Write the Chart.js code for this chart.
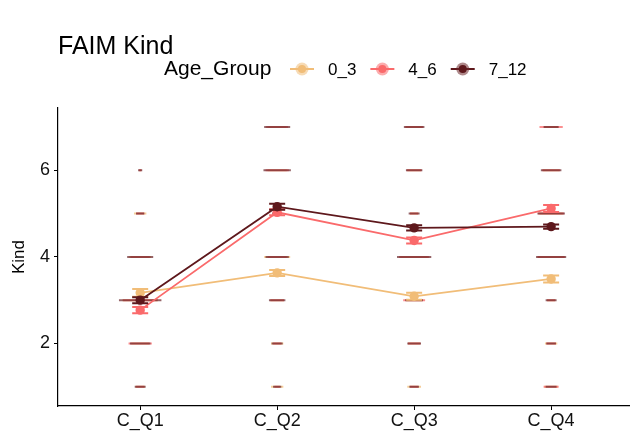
<!DOCTYPE html>
<html>
<head>
<meta charset="utf-8">
<script src="https://cdn.jsdelivr.net/npm/chart.js@4.4.1/dist/chart.umd.min.js"></script>
<style>
  body { margin: 0; background: #fff; }
  canvas { display: block; }
</style>
</head>
<body>
<canvas id="myChart" width="635" height="432"></canvas>
<script>
const categories = ['C_Q1', 'C_Q2', 'C_Q3', 'C_Q4'];
const groups = ['0_3', '4_6', '7_12'];
const levels = [1, 2, 3, 4, 5, 6, 7];
const yTicks = [2, 4, 6];

// group means and standard errors per question
const mean03 = [3.17, 3.63, 3.09, 3.49];
const mean46 = [2.77, 5.03, 4.38, 5.12];
const mean712 = [3.00, 5.16, 4.67, 4.70];
const se03 = [0.09, 0.07, 0.08, 0.08];
const se46 = [0.07, 0.07, 0.07, 0.08];
const se712 = [0.07, 0.07, 0.06, 0.05];

// violin width at each answer level 1..7 (percent of category spacing)
const dens03 = [[7, 13, 26, 16, 9, 1, 0], [9, 9, 10, 19, 6, 14, 13], [10, 9, 12, 20, 6, 10, 12], [10, 9, 6, 19, 17, 12, 10]];
const dens46 = [[6, 17, 25, 14, 6, 2, 0], [4, 6, 10, 14, 7, 17, 16], [6, 9, 16, 22, 6, 11, 13], [11, 7, 6, 20, 19, 13, 17]];
const dens712 = [[8, 15, 31, 19, 6, 3, 0], [6, 8, 12, 17, 7, 20, 19], [7, 10, 13, 25, 8, 12, 15], [8, 7, 8, 22, 20, 15, 11]];

const colors = ['#F1BD78', '#FA6A6B', '#5E181C'];
const violinColors = ['rgba(241,189,120,0.75)', 'rgba(250,106,107,0.75)', 'rgba(110,40,44,0.72)'];
const FONT = '"Liberation Sans", Arial, sans-serif';

function violinPoints(dens) {
  const pts = [];
  dens.forEach((row, i) => {
    row.forEach((d, j) => {
      if (d > 0) pts.push({ x: i, y: levels[j], d: d });
    });
  });
  return pts;
}

function meanPoints(means, ses) {
  return means.map((m, i) => ({ x: i, y: m, se: ses[i] }));
}

const allDens = [dens03, dens46, dens712];
const allMeans = [mean03, mean46, mean712];
const allSe = [se03, se46, se712];

const datasets = [];
groups.forEach((g, k) => {
  datasets.push({
    type: 'scatter',
    label: g + ' violin',
    data: violinPoints(allDens[k]),
    order: 12 - k,
    pointStyle: 'line',
    borderColor: violinColors[k],
    backgroundColor: violinColors[k],
    borderWidth: 2,
    pointRadius: ctx => {
      const x = ctx.chart.scales.x;
      const unit = x.getPixelForValue(1) - x.getPixelForValue(0);
      return ctx.raw ? ctx.raw.d / 100 * unit / 2 : 0;
    },
    pointHoverRadius: 0
  });
  datasets.push({
    type: 'line',
    label: g,
    data: meanPoints(allMeans[k], allSe[k]),
    order: 3 - k,
    errorBars: true,
    borderColor: colors[k],
    backgroundColor: colors[k],
    pointBackgroundColor: colors[k],
    pointBorderColor: colors[k],
    borderWidth: 1.8,
    pointRadius: 3.8,
    tension: 0
  });
});

// error bars drawn just before each mean line
const errorBarPlugin = {
  id: 'errorBars',
  beforeDatasetDraw(chart, args) {
    const ds = chart.data.datasets[args.index];
    if (!ds.errorBars) return;
    const ctx = chart.ctx;
    const xs = chart.scales.x, ys = chart.scales.y;
    ctx.save();
    ctx.strokeStyle = ds.borderColor;
    ctx.lineWidth = 2;
    ds.data.forEach(p => {
      const px = xs.getPixelForValue(p.x);
      const top = ys.getPixelForValue(p.y + p.se);
      const bot = ys.getPixelForValue(p.y - p.se);
      ctx.beginPath();
      ctx.moveTo(px, top); ctx.lineTo(px, bot);
      ctx.moveTo(px - 8, top); ctx.lineTo(px + 8, top);
      ctx.moveTo(px - 8, bot); ctx.lineTo(px + 8, bot);
      ctx.stroke();
    });
    ctx.restore();
  }
};

// title, y title and the inline legend like ggplot
const decorPlugin = {
  id: 'decor',
  afterDraw(chart) {
    const ctx = chart.ctx;
    const area = chart.chartArea;
    ctx.save();
    ctx.fillStyle = '#000';
    ctx.textBaseline = 'middle';
    ctx.font = '25px ' + FONT;
    ctx.textAlign = 'left';
    ctx.fillText('FAIM Kind', 58, 47);

    ctx.save();
    ctx.translate(19, (area.top + area.bottom) / 2);
    ctx.rotate(-Math.PI / 2);
    ctx.textAlign = 'center';
    ctx.font = '17px ' + FONT;
    ctx.fillText('Kind', 0, 0);
    ctx.restore();

    const ly = 69;
    ctx.font = '21px ' + FONT;
    ctx.textAlign = 'left';
    ctx.fillText('Age_Group', 164, ly);
    let cx = 302;
    ctx.font = '17px ' + FONT;
    groups.forEach((g, k) => {
      ctx.strokeStyle = colors[k];
      ctx.lineWidth = 2;
      ctx.beginPath();
      ctx.moveTo(cx - 12, ly); ctx.lineTo(cx + 12, ly);
      ctx.stroke();
      ctx.fillStyle = violinColors[k].replace(/0\.7\d\)/, '0.55)');
      ctx.beginPath(); ctx.arc(cx, ly, 6.5, 0, Math.PI * 2); ctx.fill();
      ctx.fillStyle = colors[k];
      ctx.beginPath(); ctx.arc(cx, ly, 4, 0, Math.PI * 2); ctx.fill();
      ctx.fillStyle = '#000';
      const lx = cx + 26;
      ctx.fillText(g, lx, ly + 1);
      cx = lx + ctx.measureText(g).width + 14 + 12;
    });
    ctx.restore();
  }
};

const ctx = document.getElementById('myChart');

new Chart(ctx, {
  data: { datasets: datasets },
  options: {
    responsive: false,
    animation: false,
    events: [],
    layout: { padding: { top: 108, right: 0, bottom: 0, left: 0 } },
    plugins: {
      legend: { display: false },
      title: { display: false },
      tooltip: { enabled: false }
    },
    scales: {
      x: {
        type: 'linear',
        min: -0.6,
        max: 3.57,
        afterFit: s => { s.height = 26; },
        afterBuildTicks: s => { s.ticks = categories.map((c, i) => ({ value: i })); },
        grid: { drawOnChartArea: false, drawTicks: true, tickLength: 4, color: '#000' },
        border: { display: true, color: '#000', width: 1.2 },
        ticks: {
          color: '#111',
          padding: 0,
          font: { family: FONT, size: 18 },
          callback: v => categories[v]
        }
      },
      y: {
        type: 'linear',
        min: 0.555,
        max: 7.44,
        afterFit: s => { s.width = 58; },
        afterBuildTicks: s => { s.ticks = yTicks.map(v => ({ value: v })); },
        grid: { drawOnChartArea: false, drawTicks: true, tickLength: 4, color: '#000' },
        border: { display: true, color: '#000', width: 1.2 },
        ticks: {
          color: '#111',
          padding: 4,
          font: { family: FONT, size: 18 }
        }
      }
    }
  },
  plugins: [errorBarPlugin, decorPlugin]
});
</script>
</body>
</html>
